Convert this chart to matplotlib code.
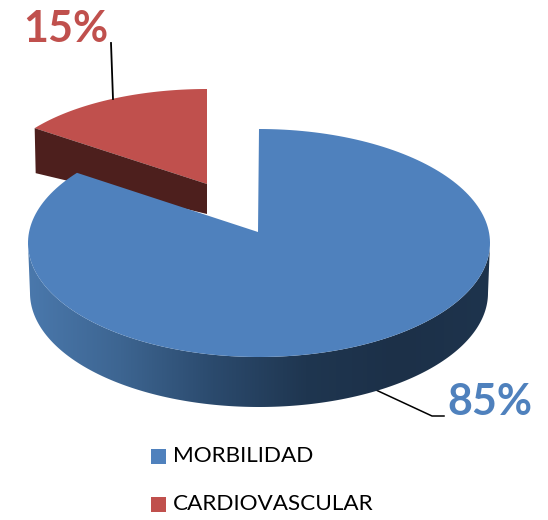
#!/usr/bin/env python3
import numpy as np
import matplotlib
matplotlib.use("Agg")
import matplotlib.pyplot as plt
from matplotlib.colors import LinearSegmentedColormap
from matplotlib.patches import Polygon, Rectangle

# data
categories = ["MORBILIDAD", "CARDIOVASCULAR"]
values = [85, 15]
face_colors = ["#4f81bd", "#c0504d"]
red_side = "#4d1f1d"
blue_side = ["#4a78ac", "#3d6591", "#2b4a6d", "#1f3650", "#1c3048", "#1e344d"]

plt.rcParams["font.family"] = ["Lato", "DejaVu Sans"]


def arc(cx, cy, rx, ry, start, stop, n=200):
    """Ellipse points, angles in degrees clockwise from 12 o'clock"""
    t = np.radians(np.linspace(start, stop, n))
    return np.column_stack([cx + rx * np.sin(t), cy - ry * np.cos(t)])


fig = plt.figure(figsize=(5.48, 5.2), dpi=100)
ax = fig.add_axes([0, 0, 1, 1])

split = 360 * values[0] / sum(values)

# red slice, pulled out of the pie
red_top = arc(207, 184, 213, 95, split, 360)
ax.add_patch(Polygon(np.vstack([[207, 184], red_top]), color=face_colors[1], lw=0))
left = red_top[0]
ax.add_patch(Polygon([left, [207, 184], [207, 214], [left[0] + 1, left[1] + 45]],
                     color=red_side, lw=0))

# blue side wall with a horizontal gradient
cx, cy, rx, ry = 259, 243, 231, 114
wall = np.vstack([arc(cx, cy, rx, ry, 90, 270), arc(cx, cy + 50, rx - 2, ry, 270, 90)])
cmap = LinearSegmentedColormap.from_list("side", blue_side)
img = ax.imshow(np.linspace(0, 1, 256)[None, :], cmap=cmap, aspect="auto",
                extent=(28, 491, 410, 240), zorder=2)
clip = Polygon(wall, transform=ax.transData, fc="none", lw=0)
ax.add_patch(clip)
img.set_clip_path(clip)

# blue top face, +2 deg because the apex sits off the ellipse centre (perspective)
blue_top = arc(cx, cy, rx, ry, 0, split + 2)
ax.add_patch(Polygon(np.vstack([[258, 232], blue_top]), color=face_colors[0], lw=0, zorder=3))
ax.plot([258.5, 258.5], [129, 232], color="#1c3048", lw=0.6, zorder=2.5)

# leader lines
ax.plot([111, 113], [43, 99], color="black", lw=1.3, zorder=1)
ax.plot([376, 432, 444], [390, 416, 416], color="black", lw=1.1, zorder=1)

# percent labels
ax.text(66, 29, f"{values[1]}%", color=face_colors[1], fontsize=31, fontweight="bold",
        ha="center", va="center")
ax.text(490, 402, f"{values[0]}%", color=face_colors[0], fontsize=31, fontweight="bold",
        ha="center", va="center")

# legend
for y, name, col in zip([456, 504], categories, face_colors):
    ax.add_patch(Rectangle((151, y - 7.5), 15, 15, color=col, lw=0))
    ax.text(173, y, name, color="black", fontsize=16.2, ha="left", va="center")

ax.set_xlim(0, 548)
ax.set_ylim(520, 0)
ax.axis("off")
fig.savefig("out.png", dpi=100)
